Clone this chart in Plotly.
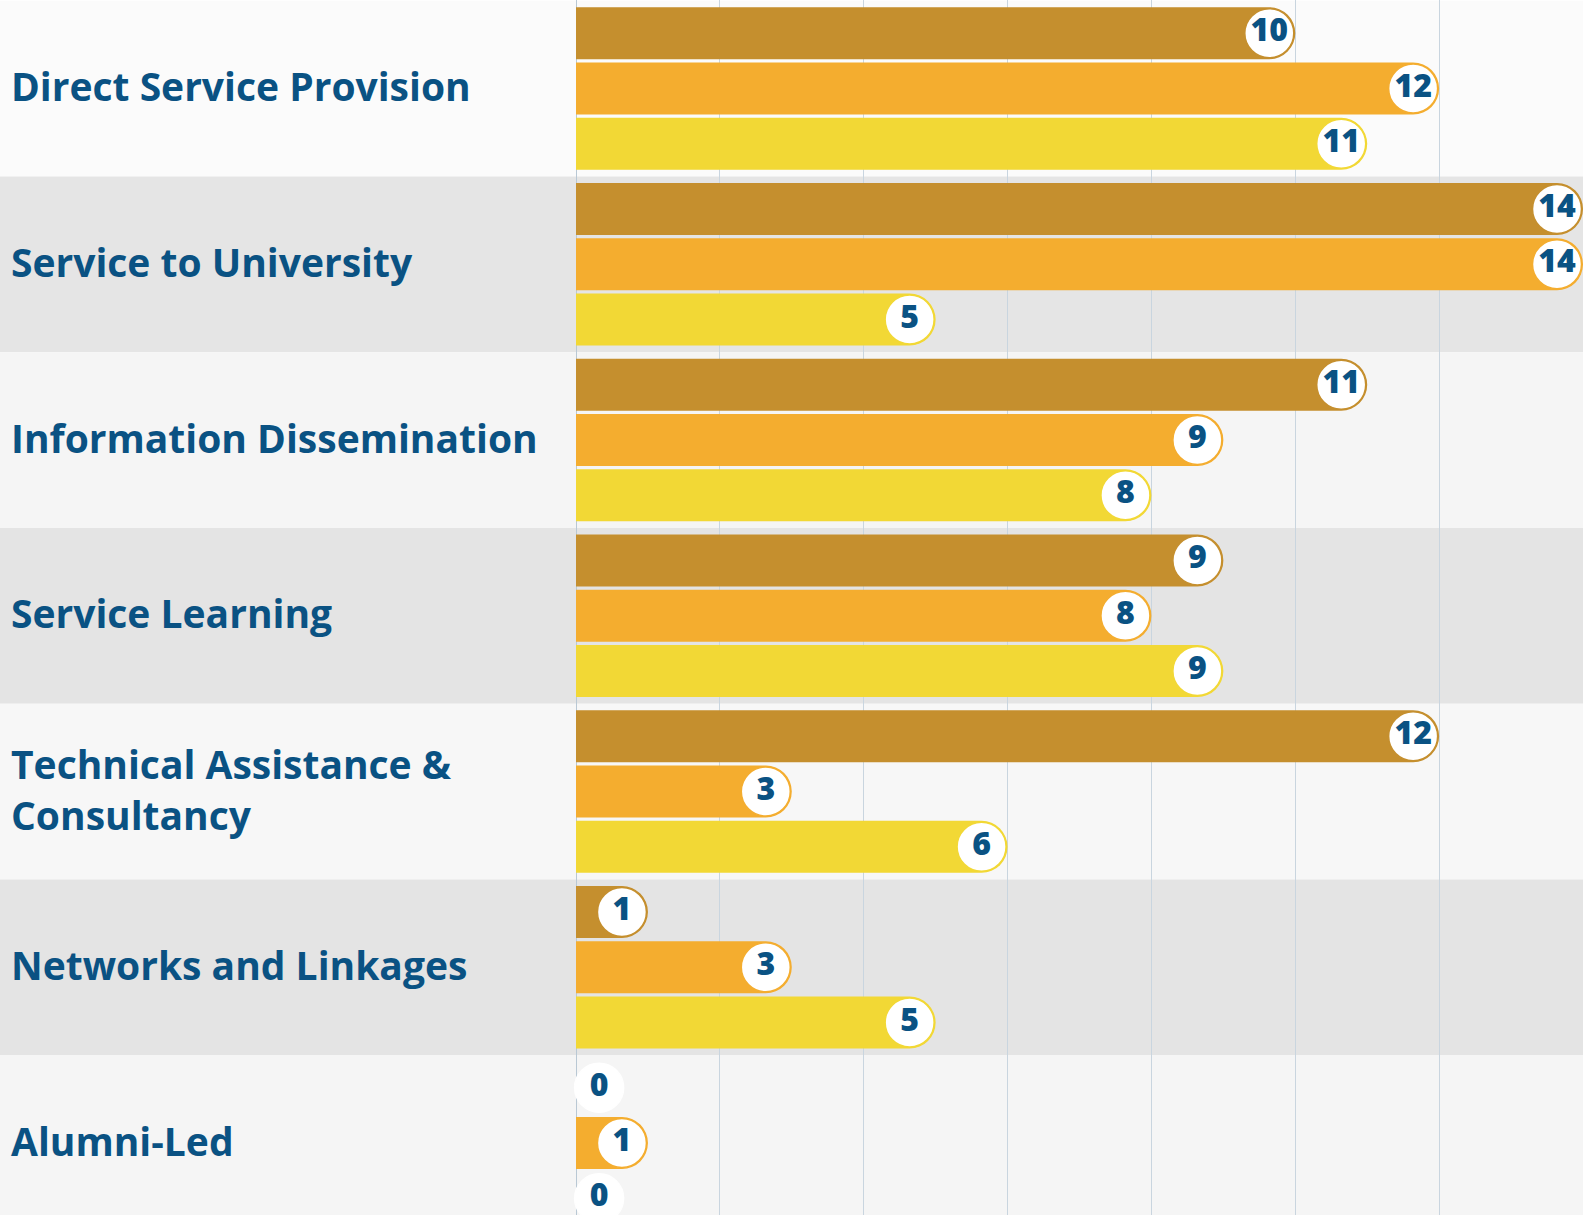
import plotly.graph_objects as go

categories = [
    "Direct Service Provision",
    "Service to University",
    "Information Dissemination",
    "Service Learning",
    "Technical Assistance &<br>Consultancy",
    "Networks and Linkages",
    "Alumni-Led",
]
series_a = [10, 14, 11, 9, 12, 1, 0]
series_b = [12, 14, 9, 8, 3, 3, 1]
series_c = [11, 5, 8, 9, 6, 5, 0]
series_names = ["Series 1", "Series 2", "Series 3"]
x_ticks = [0, 2, 4, 6, 8, 10, 12, 14]

colors = ["#C58F2E", "#F4AD2F", "#F2D835"]
text_color = "#0A5283"
band_colors = ["#FBFBFB", "#E5E5E5", "#F5F5F5", "#E4E4E4", "#F7F7F7", "#E4E4E4", "#F5F5F5"]

W, H = 1583, 1215
x_left = 576
px_per_unit = (W - x_left) / 14.0
bargap = 0.0555
slot = (1 - bargap) / 3
r_units = 26 / px_per_unit

idx = list(range(len(categories)))
fig = go.Figure()

all_series = [series_a, series_b, series_c]
for k, vals in enumerate(all_series):
    fig.add_trace(go.Bar(
        x=vals, y=idx, orientation="h", name=series_names[k],
        marker=dict(color=colors[k], line=dict(width=0), cornerradius="50%"),
        hoverinfo="x",
    ))

for k, vals in enumerate(all_series):
    xs = [max(v, 2 * r_units - 0.04) - r_units for v in vals]
    ys = [i + (k - 1) * slot for i in idx]
    fig.add_trace(go.Scatter(
        x=xs, y=ys, mode="markers+text",
        text=[str(v) for v in vals], textposition="middle center",
        textfont=dict(family="Open Sans", size=32, color=text_color, weight=800),
        marker=dict(size=49, color="white",
                    line=dict(width=1.5, color=[colors[k] if v > 0 else "white" for v in vals])),
        showlegend=False, hoverinfo="skip", cliponaxis=False,
    ))

shapes = []
for i in idx:
    shapes.append(dict(type="rect", xref="paper", yref="y", x0=0, x1=1,
                       y0=i - 0.5, y1=i + 0.5, fillcolor=band_colors[i],
                       line=dict(width=0), layer="below"))

annotations = []
for i, c in enumerate(categories):
    annotations.append(dict(xref="paper", yref="y", x=9 / W, y=i, yshift=3, text=c,
                            showarrow=False, xanchor="left", yanchor="middle", align="left",
                            font=dict(family="Open Sans", size=39, color=text_color, weight=700)))

top = -88.5 / 175.75
bottom = (H - 88.5) / 175.75

fig.update_layout(
    width=W, height=H, margin=dict(l=0, r=0, t=0, b=0),
    paper_bgcolor="white", plot_bgcolor="rgba(0,0,0,0)",
    barmode="group", bargap=bargap, bargroupgap=0.06,
    showlegend=False, shapes=shapes, annotations=annotations,
    xaxis=dict(domain=[x_left / W, 1], range=[0, 14], tickvals=x_ticks,
               showticklabels=False, showgrid=True, gridcolor="#C9D5DF", gridwidth=1,
               zeroline=True, zerolinecolor="#B9C8D4", zerolinewidth=1, showline=False),
    yaxis=dict(range=[bottom, top], showticklabels=False, showgrid=False,
               zeroline=False, showline=False),
)

fig.write_html("out.html", config={"displayModeBar": False},
               post_script="document.body.style.margin='0px';document.body.style.overflow='hidden';")
